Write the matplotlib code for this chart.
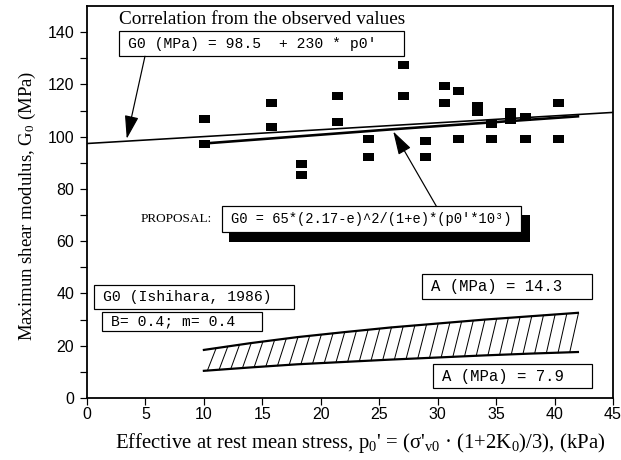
import numpy as np
import matplotlib.pyplot as plt
from matplotlib.patches import Rectangle

plt.rcParams['font.family'] = 'Liberation Serif'
plt.rcParams['mathtext.fontset'] = 'custom'
plt.rcParams['mathtext.rm'] = 'Liberation Serif'
plt.rcParams['mathtext.it'] = 'Liberation Serif:italic'

# observed values: p0' (kPa) vs G0 (MPa)
p0_obs = [10, 10, 15.7, 15.7, 18.3, 18.3, 21.4, 21.4, 24.0, 24.0, 27.0, 27.0,
          28.9, 28.9, 30.5, 30.5, 31.7, 31.7, 33.4, 33.4, 34.6, 34.6,
          36.2, 36.2, 37.5, 37.5, 40.3, 40.3]
g0_obs = [106.6, 97.4, 112.8, 103.6, 89.4, 85.2, 115.5, 105.5, 99.3, 92.4, 127.3, 115.5,
          98.2, 92.4, 119.3, 112.8, 117.4, 99.3, 111.7, 109.3, 104.7, 99.3,
          109.5, 106.3, 107.4, 99.3, 112.8, 99.3]

# correlation line from observed values
corr_x = [0, 45]
corr_y = [97.4, 109.3]

# proposal curve
prop_x = [10, 26, 42]
prop_y = [97.4, 102.8, 107.8]

# Ishihara (1986) band, A = 14.3 (upper) and A = 7.9 (lower)
band_x = [10, 14, 18, 22, 26, 30, 34, 38, 42]
band_hi = [18.4, 21.0, 23.3, 25.2, 27.0, 28.5, 30.0, 31.3, 32.6]
band_lo = [10.4, 11.7, 12.9, 13.8, 14.7, 15.5, 16.3, 17.0, 17.6]

fig = plt.figure(figsize=(621 / 144, 460 / 144), dpi=144)
ax = fig.add_axes([0.1401, 0.1348, 0.8470, 0.852])

# wide black rectangles as markers
rect_marker = [(-1.5, -1), (1.5, -1), (1.5, 1), (-1.5, 1)]
ax.plot(p0_obs, g0_obs, ls='none', marker=rect_marker, ms=5.5, color='black',
        mew=0, zorder=4)

ax.plot(corr_x, corr_y, color='black', lw=0.8, zorder=3)
ax.plot(prop_x, prop_y, color='black', lw=1.3, zorder=3)

ax.plot(band_x, band_hi, color='black', lw=1.1)
ax.plot(band_x, band_lo, color='black', lw=1.1)
# hatching of the band
for xb in np.arange(10.3, 41.5, 1.0):
    xt = xb + 0.75
    ax.plot([xb, xt], [np.interp(xb, band_x, band_lo), np.interp(xt, band_x, band_hi)],
            color='black', lw=0.5)

mono = 'Liberation Mono'


def box(x0, x1, y0, y1, txt, size=7.4, shadow=False):
    if shadow:
        ax.add_patch(Rectangle((x0 + 0.68, y0 - 3.5), x1 - x0, y1 - y0,
                               facecolor='black', edgecolor='black', zorder=5))
    ax.add_patch(Rectangle((x0, y0), x1 - x0, y1 - y0, facecolor='white',
                           edgecolor='black', lw=0.6, zorder=6))
    ax.text(x0 + 0.8, (y0 + y1) / 2, txt, family=mono, fontsize=size,
            ha='left', va='center', zorder=7)


ax.text(2.74, 145, 'Correlation from the observed values', fontsize=9.6,
        ha='left', va='center')
box(2.74, 27.12, 130.8, 140.4, "G0 (MPa) = 98.5  + 230 * p0'")
ax.text(4.6, 68.5, 'PROPOSAL:', fontsize=6.6, ha='left', va='center')
box(11.55, 37.13, 63.7, 73.3, "G0 = 65*(2.17-e)^2/(1+e)*(p0'*10³)", size=6.9, shadow=True)
box(0.6, 17.7, 34.1, 43.3, 'G0 (Ishihara, 1986)')
box(1.28, 14.97, 25.7, 33.0, 'B= 0.4; m= 0.4')
box(28.66, 43.2, 38.0, 47.6, 'A (MPa) = 14.3', size=7.8)
box(29.6, 43.2, 3.8, 13.0, 'A (MPa) = 7.9', size=7.8)

arrow = dict(arrowstyle='-|>,head_length=1.0,head_width=0.3', color='black',
             lw=0.6, shrinkA=0, shrinkB=0, mutation_scale=10)
ax.annotate('', xy=(3.4, 99.2), xytext=(4.96, 130.8), arrowprops=arrow, zorder=8)
ax.annotate('', xy=(26.2, 102.0), xytext=(29.9, 73.3), arrowprops=arrow, zorder=8)

ax.set_xlim(0, 45)
ax.set_ylim(0, 150)
ax.set_xticks(np.arange(0, 46, 5))
ax.set_yticks(np.arange(0, 141, 20))
ax.set_yticks(np.arange(10, 141, 20), minor=True)
ax.tick_params(axis='both', which='both', direction='out', length=3.5, width=0.6,
               labelsize=8)
ax.tick_params(axis='x', pad=1)
ax.tick_params(axis='y', pad=3)
for lab in ax.get_xticklabels() + ax.get_yticklabels():
    lab.set_family('Liberation Sans')
for sp in ax.spines.values():
    sp.set_linewidth(0.9)

ax.set_ylabel('Maximun shear modulus, G$_0$ (MPa)', fontsize=9.4)
ax.yaxis.set_label_coords(-0.093, 0.49)
ax.set_xlabel("Effective at rest mean stress, p$_0$' = (σ'$_{\\mathrm{v0}}$ · (1+2K$_0$)/3), (kPa)",
              fontsize=10.4)
ax.xaxis.set_label_coords(0.519, -0.083)

fig.savefig('out.png', dpi=144)
